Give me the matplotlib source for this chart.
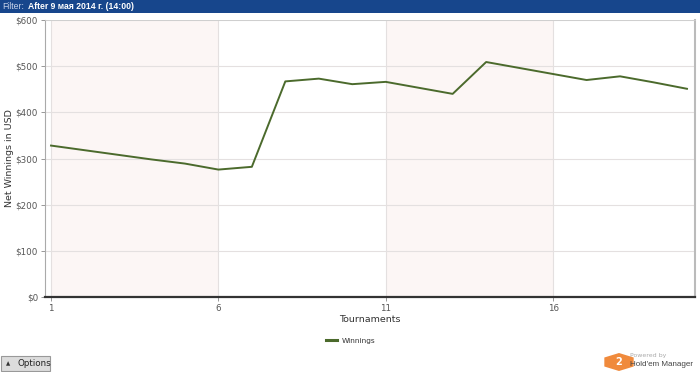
import matplotlib
matplotlib.use("Agg")
import matplotlib.pyplot as plt
from matplotlib.patches import Rectangle, RegularPolygon, FancyBboxPatch

# data
tournaments = list(range(1, 21))
winnings = [328, 318, 308, 298, 289, 276, 282, 467, 473, 461,
            466, 453, 440, 509, 496, 483, 470, 478, 465, 451]
y_ticks = [0, 100, 200, 300, 400, 500, 600]
x_ticks = [1, 6, 11, 16]
bands = [(1, 6), (11, 16)]

W, H = 700, 372
LINE = "#4b6a2c"
GRID = "#e4e0e0"
BAND = "#fcf6f5"

fig = plt.figure(figsize=(7.0, 3.72), dpi=100)
fig.patch.set_facecolor("white")

# top filter banner
fig.patches.append(Rectangle((0, 1 - 13 / H), 1, 13 / H, transform=fig.transFigure,
                             facecolor="#17468c", edgecolor="none"))
fig.text(2 / W, 1 - 6.5 / H, "Filter:", color="#c8d4ea", fontsize=6.2, va="center",
         family="Liberation Sans")
fig.text(28 / W, 1 - 6.5 / H, "After 9 мая 2014 г. (14:00)", color="white",
         fontsize=6.2, va="center", fontweight="bold", family="Liberation Sans")

# plot area
ax = fig.add_axes([45 / W, 1 - 297 / H, 650 / W, 277 / H])
ax.set_xlim(0.82, 20.24)
ax.set_ylim(0, 600)

for a, b in bands:
    ax.axvspan(a, b, color=BAND, zorder=0, lw=0)
for v in x_ticks:
    ax.axvline(v, color=GRID, lw=0.8, zorder=1)
for v in y_ticks:
    ax.axhline(v, color=GRID, lw=0.8, zorder=1)

ax.plot(tournaments, winnings, color=LINE, lw=1.4, label="Winnings", zorder=3)

ax.set_yticks(y_ticks)
ax.set_yticklabels([f"${v}" for v in y_ticks])
ax.set_xticks(x_ticks)
ax.tick_params(axis="both", labelsize=6.3, colors="#888888", labelcolor="#555555",
               length=3, width=0.6)
ax.tick_params(axis="y", pad=2)
ax.tick_params(axis="x", pad=2)

ax.spines["left"].set_color("#aaaaaa")
ax.spines["left"].set_linewidth(0.8)
ax.spines["right"].set_color("#bbbbbb")
ax.spines["right"].set_linewidth(1.5)
ax.spines["bottom"].set_color("#333333")
ax.spines["bottom"].set_linewidth(1.6)
ax.spines["top"].set_color("#cccccc")
ax.spines["top"].set_linewidth(0.6)

fig.text(10 / W, 1 - 158 / H, "Net Winnings in USD", fontsize=6.8, color="#333333",
         rotation=90, ha="center", va="center")
fig.text(370 / W, 1 - 320 / H, "Tournaments", fontsize=6.8, color="#333333",
         ha="center", va="center")

leg = ax.legend(loc="center", bbox_to_anchor=(0.47, -0.158), frameon=False,
                fontsize=5.3, handlelength=1.6, handletextpad=0.6)
for t in leg.get_texts():
    t.set_color("#333333")
for l in leg.get_lines():
    l.set_linewidth(2.2)

# options button
fig.patches.append(FancyBboxPatch((1 / W, 1 - 371 / H), 49 / W, 15 / H,
                                  boxstyle="square,pad=0", transform=fig.transFigure,
                                  facecolor="#dcdcdc", edgecolor="#999999", lw=0.8))
fig.text(6 / W, 1 - 363.5 / H, "▲", fontsize=4, color="#333333", va="center")
fig.text(17 / W, 1 - 363.5 / H, "Options", fontsize=6.3, color="#222222", va="center")

# powered by logo
fig.patches.append(RegularPolygon((619 / W, 1 - 362 / H), 6, radius=9 / H,
                                  transform=fig.transFigure, facecolor="#f08a3c",
                                  edgecolor="none", orientation=0))
fig.text(619 / W, 1 - 362 / H, "2", fontsize=7, color="white", fontweight="bold",
         ha="center", va="center")
fig.text(630 / W, 1 - 355 / H, "Powered by", fontsize=4.5, color="#aaaaaa", va="center")
fig.text(630 / W, 1 - 365 / H, "Hold'em Manager", fontsize=5.8, color="#444444",
         va="center", family="Liberation Sans")

fig.savefig("out.png", dpi=100)
